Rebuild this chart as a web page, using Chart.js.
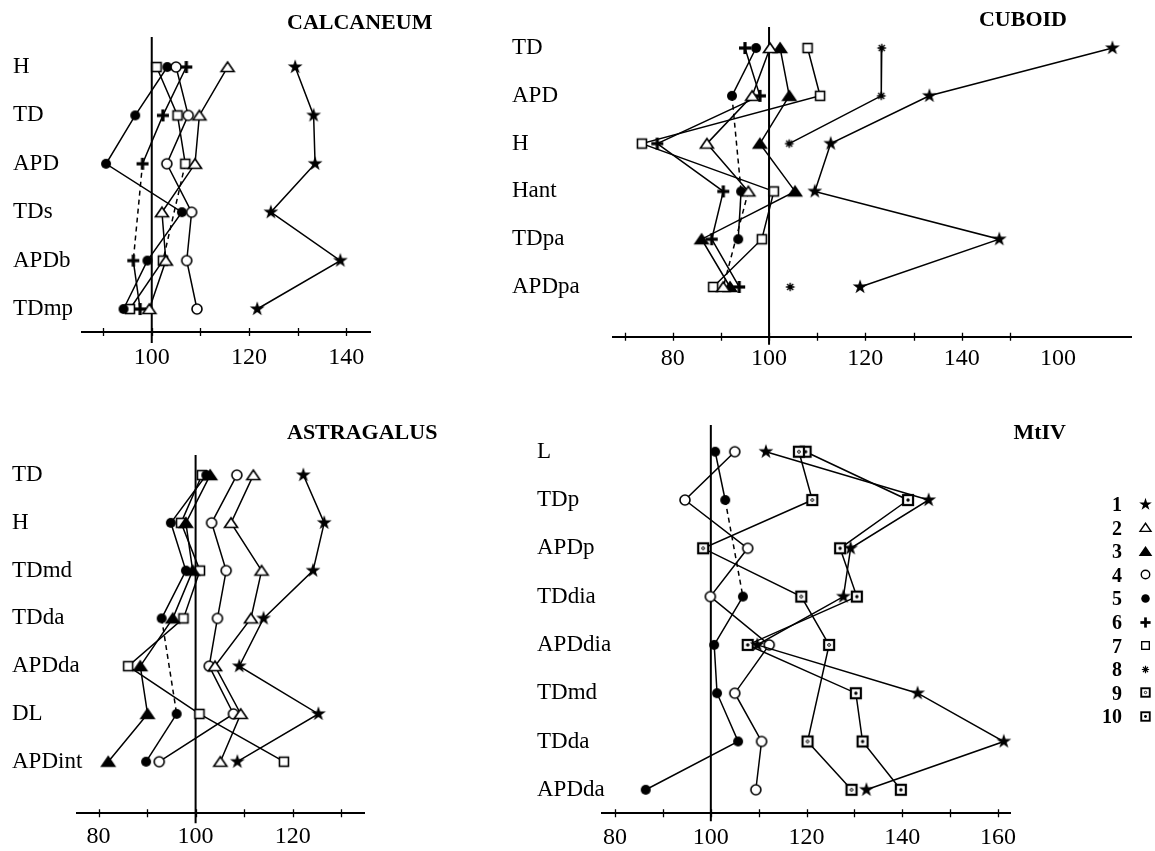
<!DOCTYPE html>
<html>
<head>
<meta charset="utf-8">
<script src="https://cdn.jsdelivr.net/npm/chart.js@4.4.1/dist/chart.umd.min.js"></script>
<style>
html, body { margin: 0; padding: 0; background: #fff; }
#wrap { position: relative; width: 1155px; height: 851px; overflow: hidden; background: #fff; }
canvas.panel { position: absolute; }
.title { position: absolute; font-family: 'Liberation Serif', 'Times New Roman', serif; font-weight: bold; font-size: 22px; line-height: 1; color: #000; white-space: nowrap; }
.legnum { position: absolute; right: 33px; font-family: 'Liberation Serif', 'Times New Roman', serif; font-weight: bold; font-size: 20px; line-height: 1; color: #000; text-align: right; }
.legmark { position: absolute; }
</style>
</head>
<body>
<div id="wrap">
  <canvas id="c1" class="panel" width="480" height="400" style="left:0px;top:0px;width:480px;height:400px"></canvas>
  <canvas id="c2" class="panel" width="675" height="400" style="left:480px;top:0px;width:675px;height:400px"></canvas>
  <canvas id="c3" class="panel" width="480" height="480" style="left:0px;top:400px;width:480px;height:480px"></canvas>
  <canvas id="c4" class="panel" width="675" height="480" style="left:480px;top:400px;width:675px;height:480px"></canvas>
  <div class="title" style="left:287px;top:11px">CALCANEUM</div>
  <div class="title" style="right:88px;top:8px">CUBOID</div>
  <div class="title" style="left:287px;top:421px">ASTRAGALUS</div>
  <div class="title" style="right:89px;top:421px">MtIV</div>
</div>
<script>
// ================= DATA =================
// CALCANEUM
const calcCategories = ['H', 'TD', 'APD', 'TDs', 'APDb', 'TDmp'];
const calcSeries1 = [129.5, 133.3, 133.6, 124.5, 138.8, 121.7];
const calcSeries2 = [115.6, 109.8, 108.9, 102.1, 102.9, 99.5];
const calcSeries4 = [105.0, 107.5, 103.1, 108.2, 107.2, 109.3];
const calcSeries5 = [103.2, 96.6, 90.6, 106.2, 99.1, 94.2];
const calcSeries6 = [107.1, 102.3, 98.1, null, 96.2, 97.6];
const calcSeries7 = [101.0, 105.3, 106.9, null, 102.3, 95.5];
const calcTickValues = [100, 120, 140];
const calcTickLabels = ['100', '120', '140'];

// CUBOID
const cubCategories = ['TD', 'APD', 'H', 'Hant', 'TDpa', 'APDpa'];
const cubSeries1 = [171.3, 133.3, 112.8, 109.5, 147.8, 118.9];
const cubSeries2 = [100.2, 96.5, 87.1, 95.7, null, 90.5];
const cubSeries3 = [102.3, 104.2, 98.1, 105.4, 86.0, 91.9];
const cubSeries5 = [97.3, 92.3, null, 94.2, 93.6, null];
const cubSeries6 = [95.0, 98.1, 76.8, 90.5, 88.1, 93.8];
const cubSeries7 = [108.0, 110.6, 73.6, 101.0, 98.5, 88.4];
const cubSeries8 = [123.4, 123.3, 104.2, null, null, 104.4];
const cubTickValues = [80, 100, 120, 140, 160];
const cubTickLabels = ['80', '100', '120', '140', '100'];

// ASTRAGALUS
const astCategories = ['TD', 'H', 'TDmd', 'TDda', 'APDda', 'DL', 'APDint'];
const astSeries1 = [122.2, 126.5, 124.2, 114.0, 109.0, 125.3, 108.6];
const astSeries2 = [111.9, 107.3, 113.6, 111.4, 104.0, 109.3, 105.1];
const astSeries3 = [103.0, 98.0, 99.4, 95.3, 88.6, 90.1, 82.0];
const astSeries4 = [108.5, 103.3, 106.3, 104.5, 102.8, 107.8, 92.5];
const astSeries5 = [102.2, 94.9, 98.0, 93.0, null, 96.1, 89.8];
const astSeries7 = [101.3, 97.0, 100.9, 97.5, 86.1, 100.8, 118.2];
const astTickValues = [80, 100, 120];
const astTickLabels = ['80', '100', '120'];

// MtIV
const mtCategories = ['L', 'TDp', 'APDp', 'TDdia', 'APDdia', 'TDmd', 'TDda', 'APDda'];
const mtSeries1 = [111.5, 145.5, 129.2, 127.7, 109.7, 143.2, 161.2, 132.5];
const mtSeries4 = [105.0, 94.6, 107.7, 99.9, 112.2, 105.0, 110.6, 109.4];
const mtSeries5 = [100.9, 103.0, null, 106.7, 100.7, 101.3, 105.7, 86.4];
const mtSeries9 = [118.4, 121.2, 98.4, 118.9, 124.7, null, 120.2, 129.4];
const mtSeries10 = [119.8, 141.2, 127.0, 130.5, 107.7, 130.3, 131.7, 139.7];
const mtTickValues = [80, 100, 120, 140, 160];
const mtTickLabels = ['80', '100', '120', '140', '160'];

// LEGEND
const legendLabels = ['1', '2', '3', '4', '5', '6', '7', '8', '9', '10'];
const legendMarkers = ['star', 'triOpen', 'triFill', 'circOpen', 'circFill', 'plus', 'sqOpen', 'ast', 'sqDotO', 'sqDotF'];

// ================= MARKERS =================
function makeMarker(type, k) {
  const S = Math.round(22 * k);
  const c = document.createElement('canvas');
  c.width = S; c.height = S;
  const g = c.getContext('2d');
  g.translate(S / 2, S / 2);
  g.scale(k, k);
  g.strokeStyle = '#000'; g.fillStyle = '#000'; g.lineWidth = 1.6;
  const path = (pts) => { g.beginPath(); pts.forEach((p, i) => i ? g.lineTo(p[0], p[1]) : g.moveTo(p[0], p[1])); g.closePath(); };
  if (type === 'star') {
    const pts = [];
    for (let i = 0; i < 10; i++) { const r = i % 2 ? 3.0 : 7.8; const a = -Math.PI / 2 + i * Math.PI / 5; pts.push([r * Math.cos(a), r * Math.sin(a)]); }
    path(pts); g.fill();
  } else if (type === 'triOpen') {
    path([[0, -5], [6.5, 4.5], [-6.5, 4.5]]); g.fillStyle = '#fff'; g.fill(); g.stroke();
  } else if (type === 'triFill') {
    path([[0, -5], [6.5, 4.5], [-6.5, 4.5]]); g.fill(); g.stroke();
  } else if (type === 'circOpen') {
    g.beginPath(); g.arc(0, 0, 5, 0, Math.PI * 2); g.fillStyle = '#fff'; g.fill(); g.stroke();
  } else if (type === 'circFill') {
    g.beginPath(); g.arc(0, 0, 5, 0, Math.PI * 2); g.fill();
  } else if (type === 'plus') {
    g.fillRect(-6, -1.6, 12, 3.2); g.fillRect(-1.6, -6, 3.2, 12);
  } else if (type === 'sqOpen') {
    g.fillStyle = '#fff'; g.fillRect(-4.5, -4.5, 9, 9); g.strokeRect(-4.5, -4.5, 9, 9);
  } else if (type === 'ast') {
    g.lineWidth = 1.4; g.beginPath();
    for (let i = 0; i < 4; i++) { const a = i * Math.PI / 4; g.moveTo(-4.3 * Math.cos(a), -4.3 * Math.sin(a)); g.lineTo(4.3 * Math.cos(a), 4.3 * Math.sin(a)); }
    g.stroke(); g.beginPath(); g.arc(0, 0, 2.3, 0, Math.PI * 2); g.fill();
  } else if (type === 'sqDotO') {
    g.lineWidth = 2.2; g.fillStyle = '#fff'; g.fillRect(-5, -5, 10, 10); g.strokeRect(-5, -5, 10, 10);
    g.lineWidth = 1; g.beginPath(); g.arc(0, 0, 1.4, 0, Math.PI * 2); g.stroke();
  } else if (type === 'sqDotF') {
    g.lineWidth = 2.2; g.fillStyle = '#fff'; g.fillRect(-5, -5, 10, 10); g.strokeRect(-5, -5, 10, 10);
    g.fillStyle = '#000'; g.beginPath(); g.arc(0, 0, 1.7, 0, Math.PI * 2); g.fill();
  }
  return c;
}
const markerTypes = ['star', 'triOpen', 'triFill', 'circOpen', 'circFill', 'plus', 'sqOpen', 'ast', 'sqDotO', 'sqDotF'];
const markers = {};
markerTypes.forEach(t => { markers[t] = makeMarker(t, 1); });

// ================= HELPERS =================
const FONT = "'Liberation Serif', 'Times New Roman', serif";

function makeDataset(values, marker, gap) {
  const d = {
    data: values.map((v, i) => ({ x: v, y: i })),
    borderColor: '#000',
    borderWidth: 1.5,
    pointStyle: markers[marker],
    pointRadius: 6,
    pointHoverRadius: 6,
    fill: false,
    tension: 0,
    clip: false,
    spanGaps: gap !== 'none'
  };
  if (gap === 'dash') {
    d.segment = { borderDash: ctx => (ctx.p0.skip || ctx.p1.skip) ? [5, 4] : undefined };
  }
  return d;
}

const refPlugin = {
  id: 'ref',
  beforeDatasetsDraw(chart, args, o) {
    const ctx = chart.ctx, a = chart.chartArea;
    const x = chart.scales.x.getPixelForValue(o.value);
    ctx.save();
    ctx.strokeStyle = '#000'; ctx.lineWidth = 2;
    ctx.beginPath(); ctx.moveTo(x, a.top); ctx.lineTo(x, a.bottom + o.below); ctx.stroke();
    ctx.restore();
  },
  afterDraw(chart, args, o) {
    const ctx = chart.ctx, s = chart.scales.x, ys = chart.scales.y, y = chart.chartArea.bottom;
    ctx.save();
    ctx.strokeStyle = '#000'; ctx.lineWidth = 1.3;
    ctx.beginPath();
    o.marks.forEach(v => { const px = Math.round(s.getPixelForValue(v)) + 0.5; ctx.moveTo(px, y - 4); ctx.lineTo(px, y + 4); });
    ctx.stroke();
    // category labels on the left (drawn unclipped at the y scale's tick pixels)
    ctx.fillStyle = '#000';
    ctx.font = '23px ' + FONT;
    ctx.textAlign = 'left';
    ctx.textBaseline = 'middle';
    o.categories.forEach((c, i) => { ctx.fillText(c, o.labelX, ys.getPixelForValue(i)); });
    ctx.restore();
  }
};

function buildPanel(id, p) {
  new Chart(document.getElementById(id), {
    type: 'line',
    data: { datasets: p.series.map(s => makeDataset(s[0], s[1], s[2])) },
    options: {
      responsive: false,
      maintainAspectRatio: false,
      animation: false,
      devicePixelRatio: 1,
      indexAxis: 'y',
      events: [],
      layout: { padding: p.padding },
      plugins: {
        legend: { display: false },
        tooltip: { enabled: false },
        ref: { value: 100, below: p.below, marks: p.marks, categories: p.categories, labelX: p.padding.left }
      },
      scales: {
        x: {
          type: 'linear', position: 'bottom', min: p.xmin, max: p.xmax,
          afterBuildTicks: s => { s.ticks = p.ticks.map(v => ({ value: v })); },
          afterFit: s => { s.height = 48; },
          grid: { display: false, drawTicks: false },
          border: { display: true, color: '#000', width: 2 },
          ticks: {
            autoSkip: false, maxRotation: 0, minRotation: 0, padding: p.xpad, color: '#000',
            font: { family: FONT, size: 24 },
            callback: v => { const i = p.tickValues.indexOf(v); return i >= 0 ? p.tickLabels[i] : ''; }
          }
        },
        y: {
          type: 'linear', position: 'left', reverse: true, min: p.ymin, max: p.ymax,
          afterBuildTicks: s => { s.ticks = p.categories.map((_, i) => ({ value: i })); },
          afterFit: s => { s.width = p.ywidth; },
          grid: { display: false, drawTicks: false },
          border: { display: false },
          ticks: { display: false }
        }
      }
    },
    plugins: [refPlugin]
  });
}

// ================= PANELS =================
buildPanel('c1', {
  categories: calcCategories, tickValues: calcTickValues, tickLabels: calcTickLabels,
  series: [
    [calcSeries1, 'star', 'dash'], [calcSeries2, 'triOpen', 'dash'], [calcSeries4, 'circOpen', 'dash'],
    [calcSeries5, 'circFill', 'dash'], [calcSeries6, 'plus', 'dash'], [calcSeries7, 'sqOpen', 'dash']
  ],
  xmin: 85.65, xmax: 144.9, ymin: -0.62, ymax: 5.475,
  ticks: [90, 100, 110, 120, 130, 140], marks: [90, 100, 110, 120, 130, 140],
  padding: { left: 13, right: 110, top: 37, bottom: 20 }, ywidth: 69, xpad: 11, below: 11
});

buildPanel('c2', {
  categories: cubCategories, tickValues: cubTickValues, tickLabels: cubTickLabels,
  series: [
    [cubSeries1, 'star', 'dash'], [cubSeries2, 'triOpen', 'dash'], [cubSeries3, 'triFill', 'dash'],
    [cubSeries5, 'circFill', 'dash'], [cubSeries6, 'plus', 'dash'], [cubSeries7, 'sqOpen', 'dash'],
    [cubSeries8, 'ast', 'none']
  ],
  xmin: 67.6, xmax: 175.3, ymin: -0.44, ymax: 6.04,
  ticks: [70, 80, 90, 100, 110, 120, 130, 140, 150, 160], marks: [70, 80, 90, 100, 110, 120, 130, 140, 150],
  padding: { left: 32, right: 23.3, top: 27, bottom: 15.3 }, ywidth: 101, xpad: 7.6, below: 8
});

buildPanel('c3', {
  categories: astCategories, tickValues: astTickValues, tickLabels: astTickLabels,
  series: [
    [astSeries1, 'star', 'dash'], [astSeries2, 'triOpen', 'dash'], [astSeries3, 'triFill', 'dash'],
    [astSeries4, 'circOpen', 'dash'], [astSeries5, 'circFill', 'dash'], [astSeries7, 'sqOpen', 'dash']
  ],
  xmin: 75.5, xmax: 134.7, ymin: -0.42, ymax: 7.08,
  ticks: [80, 90, 100, 110, 120, 130], marks: [80, 90, 100, 110, 120, 130],
  padding: { left: 12, right: 116, top: 55, bottom: 18.7 }, ywidth: 64.7, xpad: 8.6, below: 10
});

buildPanel('c4', {
  categories: mtCategories, tickValues: mtTickValues, tickLabels: mtTickLabels,
  series: [
    [mtSeries1, 'star', 'dash'], [mtSeries4, 'circOpen', 'dash'], [mtSeries5, 'circFill', 'dash'],
    [mtSeries9, 'sqDotO', 'solid'], [mtSeries10, 'sqDotF', 'dash']
  ],
  xmin: 77.2, xmax: 162.5, ymin: -0.553, ymax: 7.487,
  ticks: [80, 90, 100, 110, 120, 130, 140, 150, 160], marks: [80, 90, 100, 110, 120, 130, 140, 150, 160],
  padding: { left: 57, right: 145, top: 25, bottom: 18.7 }, ywidth: 64.7, xpad: 9.6, below: 8
});

// ================= LEGEND =================
const wrap = document.getElementById('wrap');
legendLabels.forEach((lab, i) => {
  const cy = 504 + 23.6 * i;
  const n = document.createElement('div');
  n.className = 'legnum';
  n.style.top = (cy - 10) + 'px';
  n.textContent = lab;
  wrap.appendChild(n);
  const m = makeMarker(legendMarkers[i], 0.85);
  m.className = 'legmark';
  m.style.left = (1145 - m.width / 2) + 'px';
  m.style.top = (cy - m.height / 2) + 'px';
  wrap.appendChild(m);
});
</script>
</body>
</html>
